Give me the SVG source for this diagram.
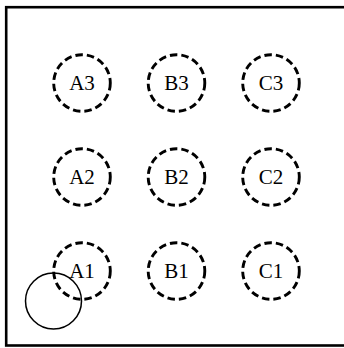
<svg xmlns="http://www.w3.org/2000/svg" width="344" height="348" viewBox="0 0 344 348">
<style>
.n circle{fill:none;stroke:#000;stroke-width:2.9;stroke-dasharray:7.5,4}
.n text{font-family:"Liberation Serif","Times New Roman",serif;font-size:21px;fill:#000;text-anchor:middle}
</style>
<rect x="0" y="0" width="344" height="348" fill="#fff"/>
<rect id="frame" x="6.2" y="7.2" width="400" height="338.3" fill="none" stroke="#000" stroke-width="2.6"/>
<g id="A3" class="n"><circle cx="82" cy="83" r="28.3"/><text x="82" y="90.3">A3</text></g>
<g id="B3" class="n"><circle cx="176.5" cy="83" r="28.3"/><text x="176.5" y="90.3">B3</text></g>
<g id="C3" class="n"><circle cx="271" cy="83" r="28.3"/><text x="271" y="90.3">C3</text></g>
<g id="A2" class="n"><circle cx="82" cy="177" r="28.3"/><text x="82" y="184.3">A2</text></g>
<g id="B2" class="n"><circle cx="176.5" cy="177" r="28.3"/><text x="176.5" y="184.3">B2</text></g>
<g id="C2" class="n"><circle cx="271" cy="177" r="28.3"/><text x="271" y="184.3">C2</text></g>
<g id="A1" class="n"><circle cx="82" cy="271" r="28.3"/><text x="82" y="278">A1</text></g>
<g id="B1" class="n"><circle cx="176.5" cy="271" r="28.3"/><text x="176.5" y="278">B1</text></g>
<g id="C1" class="n"><circle cx="271" cy="271" r="28.3"/><text x="271" y="278">C1</text></g>
<g id="probe"><circle cx="53.5" cy="301" r="28" fill="none" stroke="#000" stroke-width="1.5"/></g>
<g id="connectors"></g>
</svg>
